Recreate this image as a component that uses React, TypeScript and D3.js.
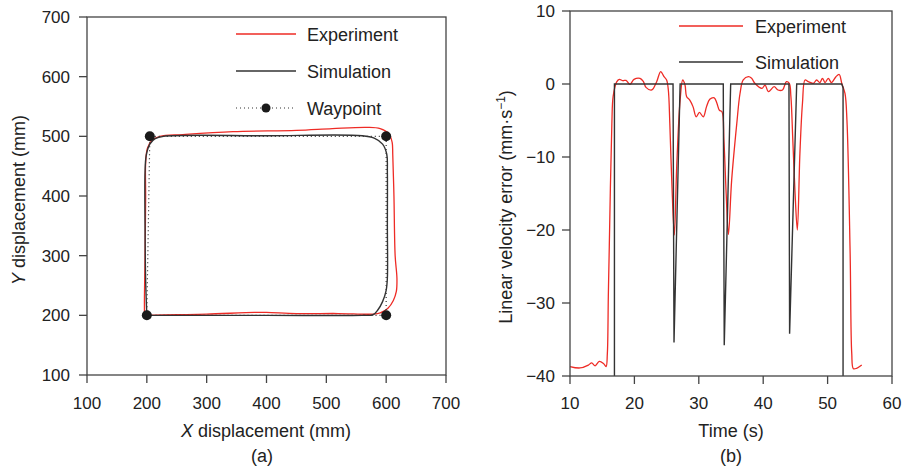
import * as d3 from "d3";

// (a) path in the XY plane, values in mm
const waypoints: [number, number][] = [
  [200, 200], [205, 500], [600, 500], [600, 200], [200, 200],
];
const simPath: [number, number][] = [
  [200, 200], [198, 260], [197, 350], [197, 440], [199, 468], [205, 487], [214, 496], [228, 500],
  [400, 501], [560, 501], [580, 497], [594, 487], [601, 470], [602, 440], [602, 350], [602, 262],
  [600, 242], [594, 223], [586, 209], [578, 201], [560, 200], [400, 200], [200, 200],
];
const expPath: [number, number][] = [
  [196, 203], [196, 230], [197, 300], [198, 400], [198, 455], [201, 480], [209, 494], [222, 500],
  [260, 503], [344, 508], [450, 510], [510, 513], [568, 515], [590, 513], [604, 505], [610, 490],
  [611, 470], [613, 400], [615, 300], [618, 262], [617, 240], [612, 225], [603, 212], [590, 204],
  [578, 202], [520, 203], [450, 203], [400, 205], [380, 205], [300, 202], [250, 201], [200, 200],
];
const xyTicks = [100, 200, 300, 400, 500, 600, 700];

// (b) linear velocity error against time
const simVel: [number, number][] = [
  [16.9, -40], [16.9, 0], [26.0, 0], [26.15, -35.4], [27.1, 0], [33.8, 0], [33.95, -35.8],
  [34.95, 0], [44.0, 0], [44.1, -34.2], [45.2, 0], [52.2, 0], [52.4, -0.5], [52.4, -40],
];
const expVel: [number, number][] = [
  [10, -38.7], [11.55, -38.9], [12.85, -38.5], [13.37, -38.2], [13.9, -38.6], [14.55, -38.0],
  [15.2, -38.3], [15.6, -38.7], [15.8, -36.9], [15.95, -29.1], [16.1, -22.3], [16.5, -5.4],
  [16.7, -1.7], [17.25, 0.3], [17.66, 0.64], [18.2, 0.45], [18.7, 0.5], [19.3, -0.05],
  [19.94, 0.64], [20.87, 0.78], [21.4, 0.32], [21.8, -0.46], [22.7, -0.82], [23.46, 0.32],
  [24.08, 1.7], [24.6, 1.0], [25.0, 0.55], [25.27, -0.82], [25.5, -5.4], [25.8, -13.2],
  [26.2, -20.7], [26.57, -11.3], [27.1, -2.2], [27.5, 0.55], [27.86, -0.14], [28.1, -1.7],
  [28.6, -2.2], [29.1, -3.1], [29.6, -4.5], [30.1, -3.9], [30.7, -4.5], [31.2, -3.1],
  [31.7, -2.1], [32.4, -1.9], [32.8, -2.6], [33.2, -3.6], [33.6, -3.8], [33.9, -7.7],
  [34.25, -15], [34.6, -20.6], [35.1, -13.2], [35.9, -5.4], [36.4, -1.3], [36.9, 0.55],
  [37.7, 1.0], [38.2, 0.78], [38.7, 0.1], [39.8, -0.6], [40.3, -0.14], [40.8, -1.05],
  [41.7, -0.37], [42.3, -0.82], [43.0, -0.82], [43.6, 0.32], [44.05, 0.09], [44.3, -1.7],
  [44.6, -7.7], [44.95, -15], [45.3, -20], [45.7, -9.5], [46.1, -2.6], [46.5, 0.55],
  [47.0, 0.32], [47.8, 0.1], [48.3, 0.55], [48.8, 0.2], [49.2, 0.78], [49.6, 0.2],
  [50.1, 0.78], [50.6, 0.2], [51.3, 1.0], [51.8, 1.3], [52.2, 0.09], [52.7, -1.3],
  [53.0, -4.9], [53.5, -23.2], [53.75, -36.9], [54.0, -39.0], [54.5, -38.95], [55.3, -38.5],
];
const timeTicks = [10, 20, 30, 40, 50, 60];
const velTicks = [-40, -30, -20, -10, 0, 10];

const RED = "#ee2b25";
const DARK = "#333";
const AXIS = "#444";
const FONT = "'Liberation Sans', Arial, sans-serif";

export default function App() {
  // panel (a)
  const xa = d3.scaleLinear().domain([100, 700]).range([87, 446]);
  const ya = d3.scaleLinear().domain([100, 700]).range([375, 17]);
  const lineA = d3.line<[number, number]>().x(d => xa(d[0])).y(d => ya(d[1])).curve(d3.curveCatmullRom);
  const lineWp = d3.line<[number, number]>().x(d => xa(d[0])).y(d => ya(d[1]));

  // panel (b)
  const xb = d3.scaleLinear().domain([10, 60]).range([570, 892]);
  const yb = d3.scaleLinear().domain([-40, 10]).range([376, 11]);
  const lineExpB = d3.line<[number, number]>().x(d => xb(d[0])).y(d => yb(d[1])).curve(d3.curveCatmullRom);
  const lineSimB = d3.line<[number, number]>().x(d => xb(d[0])).y(d => yb(d[1]));
  const fmt = d3.format("d");

  return (
    <svg width={902} height={470} style={{ position: "absolute", left: 0, top: 0, background: "#fff" }}
      fontFamily={FONT}>
      {/* ---------- (a) ---------- */}
      <g>
        <path d={lineA(expPath) ?? ""} fill="none" stroke={RED} strokeWidth={1.3} />
        <path d={lineA(simPath) ?? ""} fill="none" stroke={DARK} strokeWidth={1.4} />
        <path d={lineWp(waypoints) ?? ""} fill="none" stroke={DARK} strokeWidth={1.2} strokeDasharray="1,3" />
        {waypoints.slice(0, 4).map((d, i) => (
          <circle key={i} cx={xa(d[0])} cy={ya(d[1])} r={5} fill="#1a1a1a" />
        ))}
        <rect x={xa(100)} y={ya(700)} width={xa(700) - xa(100)} height={ya(100) - ya(700)}
          fill="none" stroke={AXIS} strokeWidth={1.3} />
        {xyTicks.map(t => (
          <g key={"xa" + t}>
            <line x1={xa(t)} x2={xa(t)} y1={ya(100)} y2={ya(100) + 8} stroke={AXIS} strokeWidth={1.3} />
            <text x={xa(t)} y={409} textAnchor="middle" fontSize={17} fill="#222">{fmt(t)}</text>
          </g>
        ))}
        {xyTicks.map(t => (
          <g key={"ya" + t}>
            <line x1={xa(100) - 8} x2={xa(100)} y1={ya(t)} y2={ya(t)} stroke={AXIS} strokeWidth={1.3} />
            <text x={70} y={ya(t) + 6} textAnchor="end" fontSize={17} fill="#222">{fmt(t)}</text>
          </g>
        ))}
        <text x={266} y={437} textAnchor="middle" fontSize={18} fill="#222">
          <tspan fontStyle="italic">X</tspan> displacement (mm)
        </text>
        <text transform="translate(25,200) rotate(-90)" textAnchor="middle" fontSize={18} fill="#222">
          <tspan fontStyle="italic">Y</tspan> displacement (mm)
        </text>
        <text x={262} y={462} textAnchor="middle" fontSize={18} fill="#222">(a)</text>

        {/* legend */}
        <line x1={236} x2={296} y1={34} y2={34} stroke={RED} strokeWidth={1.3} />
        <text x={307} y={41} fontSize={18} fill="#222">Experiment</text>
        <line x1={236} x2={296} y1={71} y2={71} stroke={DARK} strokeWidth={1.4} />
        <text x={307} y={78} fontSize={18} fill="#222">Simulation</text>
        <line x1={236} x2={296} y1={108} y2={108} stroke={DARK} strokeWidth={1.2} strokeDasharray="1,3" />
        <circle cx={266} cy={108} r={4.5} fill="#1a1a1a" />
        <text x={307} y={115} fontSize={18} fill="#222">Waypoint</text>
      </g>

      {/* ---------- (b) ---------- */}
      <g>
        <path d={lineExpB(expVel) ?? ""} fill="none" stroke={RED} strokeWidth={1.3} />
        <path d={lineSimB(simVel) ?? ""} fill="none" stroke={DARK} strokeWidth={1.4} />
        <rect x={xb(10)} y={yb(10)} width={xb(60) - xb(10)} height={yb(-40) - yb(10)}
          fill="none" stroke={AXIS} strokeWidth={1.3} />
        {timeTicks.map(t => (
          <g key={"xb" + t}>
            <line x1={xb(t)} x2={xb(t)} y1={yb(-40)} y2={yb(-40) + 8} stroke={AXIS} strokeWidth={1.3} />
            <text x={xb(t)} y={409} textAnchor="middle" fontSize={17} fill="#222">{fmt(t)}</text>
          </g>
        ))}
        {velTicks.map(t => (
          <g key={"yb" + t}>
            <line x1={xb(10) - 8} x2={xb(10)} y1={yb(t)} y2={yb(t)} stroke={AXIS} strokeWidth={1.3} />
            <text x={555} y={yb(t) + 6} textAnchor="end" fontSize={17} fill="#222">{fmt(t)}</text>
          </g>
        ))}
        <text x={731} y={437} textAnchor="middle" fontSize={18} fill="#222">Time (s)</text>
        <text transform="translate(512,207) rotate(-90)" textAnchor="middle" fontSize={18} fill="#222">
          Linear velocity error (mm·s<tspan dy={-7} fontSize={12}>−1</tspan><tspan dy={7}>)</tspan>
        </text>
        <text x={731} y={462} textAnchor="middle" fontSize={18} fill="#222">(b)</text>

        {/* legend */}
        <line x1={679} x2={743} y1={26} y2={26} stroke={RED} strokeWidth={1.3} />
        <text x={755} y={33} fontSize={18} fill="#222">Experiment</text>
        <line x1={679} x2={743} y1={62} y2={62} stroke={DARK} strokeWidth={1.4} />
        <text x={755} y={69} fontSize={18} fill="#222">Simulation</text>
      </g>
    </svg>
  );
}
